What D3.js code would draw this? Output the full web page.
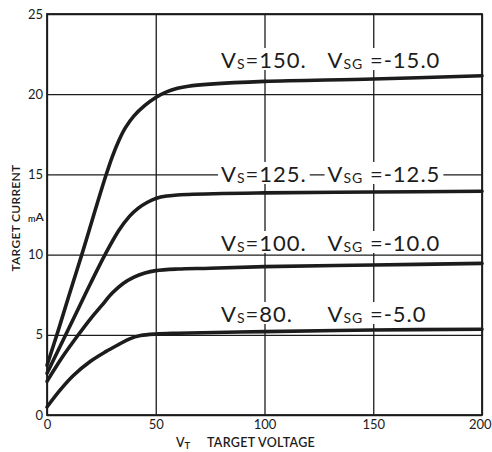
<!DOCTYPE html>
<html><head><meta charset="utf-8">
<script src="https://cdn.jsdelivr.net/npm/d3@7"></script>
<style>body{margin:0;background:#fff} svg{display:block}</style>
</head><body><svg id="c" width="492" height="452"></svg>
<script>
// ---- data ----
const xTicks = [0, 50, 100, 150, 200];
const yTicks = [0, 5, 10, 15, 20, 25];

const vt150 = [0, 5, 10, 16, 22, 27, 30, 33, 36, 40, 45, 50, 55, 60, 65, 75, 100, 150, 200];
const it150 = [3.1, 5.2, 7.4, 10, 12.7, 14.9, 16.1, 17.1, 17.9, 18.65, 19.3, 19.8, 20.15, 20.37, 20.5, 20.63, 20.8, 20.95, 21.15];

const vt125 = [0, 8.6, 15, 20, 26.7, 33, 38, 42, 46, 50, 55, 65, 100, 150, 200];
const it125 = [2.6, 5, 6.8, 8.2, 10, 11.5, 12.4, 12.9, 13.25, 13.5, 13.65, 13.75, 13.85, 13.9, 13.95];

const vt100 = [0, 7, 14.4, 20, 25, 30, 35, 40, 45, 50, 60, 75, 100, 150, 200];
const it100 = [2.1, 3.6, 5.0, 6.0, 6.8, 7.6, 8.2, 8.6, 8.85, 9.0, 9.1, 9.15, 9.25, 9.35, 9.45];

const vt80 = [0, 6, 12, 20, 27, 33, 38, 43, 50, 60, 100, 150, 200];
const it80 = [0.5, 1.55, 2.45, 3.35, 3.95, 4.4, 4.75, 4.95, 5.05, 5.1, 5.2, 5.3, 5.35];

const seriesVs  = ["150", "125", "100", "80"];
const seriesVsg = ["-15.0", "-12.5", "-10.0", "-5.0"];

// ---- layout ----
const svg = d3.select("#c");
const L = 47, R = 482, T = 14, B = 415;
const x = d3.scaleLinear([0, 200], [L, R]);
const y = d3.scaleLinear([0, 25], [B, T]);
const ink = "#1c1c1c";
const font = "Lato, 'Noto Sans', sans-serif";

svg.append("rect").attr("width", 492).attr("height", 452).attr("fill", "#fff");

// grid via axes
const gx = svg.append("g").attr("transform", `translate(0,${B})`)
  .call(d3.axisBottom(x).tickValues(xTicks).tickSize(-(B - T)).tickPadding(4).tickFormat(d3.format("d")));
const gy = svg.append("g").attr("transform", `translate(${L},0)`)
  .call(d3.axisLeft(y).tickValues(yTicks).tickSize(-(R - L)).tickPadding(4).tickFormat(d3.format("d")));
[gx, gy].forEach(g => {
  g.select(".domain").remove();
  g.selectAll(".tick line").attr("stroke", ink).attr("stroke-width", 1.3);
  g.selectAll(".tick text").attr("fill", ink).attr("font-family", font).attr("font-size", 13);
});
gx.selectAll(".tick text").attr("dy", "0.75em");
gx.selectAll(".tick text").filter(d => d === 200).attr("text-anchor", "end").attr("dx", 9);
// frame
svg.append("rect").attr("x", L).attr("y", T).attr("width", R - L).attr("height", B - T)
  .attr("fill", "none").attr("stroke", ink).attr("stroke-width", 1.8);

// ---- curve labels (with white backing that interrupts grid lines) ----
const labelBase = [68, 182, 251, 322];
const labelLayer = svg.append("g");
function addPart(xp, yb, name, sub, rest) {
  const t = labelLayer.append("text").attr("x", xp).attr("y", yb)
    .attr("font-family", font).attr("font-size", 22).attr("letter-spacing", 1).attr("fill", ink);
  t.append("tspan").text(name);
  t.append("tspan").attr("font-size", 14).attr("dy", 1).text(sub);
  t.append("tspan").attr("dy", -1).text(rest);
  const bb = t.node().getBBox();
  labelLayer.insert("rect", "text").attr("x", bb.x - 3).attr("y", yb - 20)
    .attr("width", bb.width + 6).attr("height", 22).attr("fill", "#fff");
}
seriesVs.forEach((vs, i) => {
  addPart(x(80), labelBase[i], "V", "S", "=" + vs + ".");
  addPart(x(129), labelBase[i], "V", "SG", " =" + seriesVsg[i]);
});

// ---- curves ----
const line = d3.line().x(d => x(d[0])).y(d => y(d[1])).curve(d3.curveCatmullRom.alpha(0.5));
[[vt150, it150], [vt125, it125], [vt100, it100], [vt80, it80]].forEach(([vx, vy]) => {
  svg.append("path").attr("d", line(d3.zip(vx, vy)))
    .attr("fill", "none").attr("stroke", ink).attr("stroke-width", 3.6)
    .attr("stroke-linecap", "round").attr("stroke-linejoin", "round");
});

// ---- axis titles ----
const xt = svg.append("text").attr("x", 176).attr("y", 447)
  .attr("font-family", font).attr("font-size", 12.5).attr("font-weight", 600).attr("fill", ink);
xt.append("tspan").text("V");
xt.append("tspan").attr("font-size", 9.5).attr("dy", 2).text("T");
xt.append("tspan").attr("dy", -2).attr("x", 207).attr("letter-spacing", 0.3).text("TARGET  VOLTAGE");

svg.append("text").attr("transform", "translate(20,218) rotate(-90)")
  .attr("text-anchor", "middle").attr("font-family", font).attr("font-size", 12)
  .attr("font-weight", 600).attr("letter-spacing", 0.3).attr("fill", ink).text("TARGET  CURRENT");
const ma = svg.append("text").attr("x", 28).attr("y", 221)
  .attr("font-family", font).attr("font-weight", 600).attr("fill", ink);
ma.append("tspan").attr("font-size", 9).attr("dy", 1).text("m");
ma.append("tspan").attr("font-size", 12).attr("dy", -1).text("A");
</script></body></html>
